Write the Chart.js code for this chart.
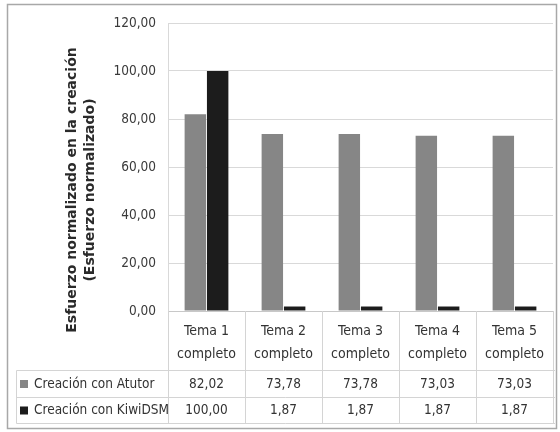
<!DOCTYPE html>
<html>
<head>
<meta charset="utf-8">
<script src="https://cdn.jsdelivr.net/npm/chart.js@4"></script>
<style>
  html, body { margin: 0; padding: 0; background: #fff; }
  #wrap { width: 560px; height: 432px; }
</style>
</head>
<body>
<div id="wrap"><canvas id="chart" width="560" height="432"></canvas></div>
<script>
const categories = [['Tema 1', 'completo'], ['Tema 2', 'completo'], ['Tema 3', 'completo'], ['Tema 4', 'completo'], ['Tema 5', 'completo']];
const seriesNames = ['Creación con Atutor', 'Creación con KiwiDSM'];
const atutor = [82.02, 73.78, 73.78, 73.03, 73.03];
const kiwi = [100.00, 1.87, 1.87, 1.87, 1.87];
const yTitle = ['Esfuerzo normalizado en la creación', '(Esfuerzo normalizado)'];

const FONT = '"Liberation Sans Narrow", "DejaVu Sans Condensed", "Open Sans", sans-serif';
const colors = ['#868686', '#1c1c1c'];
const fmt = v => v.toFixed(2).replace('.', ',');

// frame, y title and the data table under the plot
const tablePlugin = {
  id: 'dataTable',
  beforeDraw(chart) {
    const c = chart.ctx;
    c.save();
    c.fillStyle = '#fff';
    c.fillRect(0, 0, chart.width, chart.height);
    c.strokeStyle = '#a8a8a8';
    c.lineWidth = 1.5;
    c.strokeRect(7.5, 4.5, 549, 424);
    c.restore();
  },
  afterDraw(chart) {
    const c = chart.ctx;
    const x = chart.scales.x;
    const area = chart.chartArea;
    const half = (x.getPixelForValue(1) - x.getPixelForValue(0)) / 2;
    const rows = [area.bottom, 370.5, 397.5, 423.5];
    const tableLeft = 16.5;
    c.save();
    c.strokeStyle = '#d4d4d4';
    c.lineWidth = 1;
    c.beginPath();
    for (let i = 1; i < rows.length; i++) {
      c.moveTo(tableLeft, rows[i]); c.lineTo(area.right + 2, rows[i]);
    }
    c.moveTo(tableLeft, rows[1]); c.lineTo(tableLeft, rows[3]);
    for (let i = 0; i <= categories.length; i++) {
      const px = Math.round(x.getPixelForValue(i) - half) + 0.5;
      c.moveTo(px, rows[0]); c.lineTo(px, rows[3]);
    }
    c.stroke();

    c.fillStyle = '#333';
    c.textAlign = 'center';
    c.textBaseline = 'middle';
    c.font = '14px ' + FONT;
    categories.forEach((lines, i) => {
      const cx = x.getPixelForValue(i);
      c.fillText(lines[0], cx, 331);
      c.fillText(lines[1], cx, 354);
    });
    c.font = '13.5px ' + FONT;
    const data = [atutor, kiwi];
    data.forEach((vals, r) => {
      const cy = (rows[r + 1] + rows[r + 2]) / 2;
      vals.forEach((v, i) => c.fillText(fmt(v), x.getPixelForValue(i), cy));
      c.fillStyle = colors[r];
      c.fillRect(20, cy - 4, 8, 8);
      c.fillStyle = '#333';
      c.textAlign = 'left';
      c.fillText(seriesNames[r], 34, cy);
      c.textAlign = 'center';
    });

    // rotated two-line axis title
    c.font = 'bold 14px "DejaVu Sans", "Open Sans", sans-serif';
    c.fillStyle = '#2a2a2a';
    c.translate(72, 190);
    c.rotate(-Math.PI / 2);
    c.fillText(yTitle[0], 0, 0);
    c.fillText(yTitle[1], 0, 18);
    c.restore();
  }
};

new Chart(document.getElementById('chart'), {
  type: 'bar',
  data: {
    labels: categories.map(l => l.join(' ')),
    datasets: [
      { label: seriesNames[0], data: atutor, backgroundColor: colors[0] },
      { label: seriesNames[1], data: kiwi, backgroundColor: colors[1] }
    ]
  },
  options: {
    responsive: false,
    animation: false,
    devicePixelRatio: 1,
    layout: { padding: { left: 0, top: 23, right: 7, bottom: 121 } },
    datasets: { bar: { categoryPercentage: 0.58, barPercentage: 0.96 } },
    plugins: { legend: { display: false }, tooltip: { enabled: false } },
    scales: {
      x: {
        grid: { display: false },
        border: { color: '#c8c8c8' },
        ticks: { display: false },
        afterFit: s => { s.height = 0; }
      },
      y: {
        min: 0, max: 120,
        grid: { color: '#d9d9d9', drawTicks: false },
        border: { color: '#d9d9d9' },
        ticks: { stepSize: 20, padding: 12, color: '#3a3a3a', font: { family: FONT, size: 13.5 }, callback: v => fmt(v) },
        afterFit: s => { s.width = 168; }
      }
    }
  },
  plugins: [tablePlugin]
});
</script>
</body>
</html>
